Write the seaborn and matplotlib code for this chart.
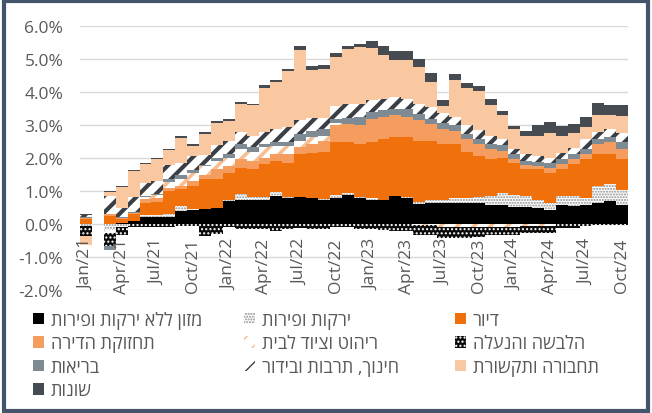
import matplotlib
matplotlib.use('Agg')
import matplotlib.pyplot as plt
from matplotlib.patches import Patch, Rectangle
import seaborn as sns
import numpy as np

sns.set_theme(style='white')
plt.rcParams['font.family'] = ['Open Sans', 'DejaVu Sans']

# months Jan/21 .. Oct/24
months = ['Jan', 'Feb', 'Mar', 'Apr', 'May', 'Jun', 'Jul', 'Aug', 'Sep', 'Oct', 'Nov', 'Dec']
dates = [f'{m}/{y}' for y in ['21', '22', '23', '24'] for m in months][:46]
tick_labels = dates[::3]

# contributions (percentage points)
food = [0, 0, 0, 0.03, 0.08, 0.22, 0.22, 0.22, 0.4, 0.42, 0.46, 0.48,
        0.69, 0.74, 0.72, 0.72, 0.84, 0.79, 0.82, 0.79, 0.72, 0.8, 0.87, 0.79,
        0.74, 0.72, 0.84, 0.79, 0.61, 0.63, 0.63, 0.63, 0.63, 0.63, 0.58, 0.58,
        0.53, 0.53, 0.48, 0.43, 0.58, 0.55, 0.58, 0.63, 0.69, 0.58]
veg = [-0.05, 0, -0.18, -0.08, 0.02, 0.05, 0.06, 0.08, 0.15, 0.02, 0, 0,
       0.05, 0.18, 0.09, 0.09, 0.13, 0.02, 0.01, 0, 0.05, 0.08, 0.07, 0.03,
       0.05, 0.02, 0, 0.04, 0.07, 0.11, 0.11, 0.16, 0.16, 0.2, 0.26, 0.36,
       0.36, 0.31, 0.26, 0.2, 0.26, 0.29, 0.2, 0.52, 0.51, 0.46]
housing = [0.15, 0, 0.25, 0.12, 0.2, 0.36, 0.4, 0.7, 0.5, 0.7, 0.89, 0.87,
           0.81, 0.79, 0.85, 1.0, 0.94, 1.05, 1.29, 1.36, 1.4, 1.6, 1.53, 1.6,
           1.68, 1.84, 1.79, 1.8, 1.85, 1.79, 1.68, 1.63, 1.38, 1.24, 1.12, 1.07,
           0.97, 0.84, 0.92, 0.92, 0.82, 0.97, 1.18, 0.97, 0.92, 0.92]
maintenance = [0.03, 0, 0.05, 0.03, 0.03, 0.12, 0.1, 0.1, 0.1, 0.16, 0.15, 0.31,
               0.21, 0.25, 0.25, 0.2, 0.21, 0.26, 0.2, 0.27, 0.35, 0.52, 0.57, 0.57,
               0.72, 0.66, 0.66, 0.61, 0.61, 0.51, 0.46, 0.41, 0.41, 0.36, 0.31, 0.21,
               0.1, 0.1, 0.1, 0.15, 0.15, 0.15, 0.15, 0.31, 0.36, 0.31]
furniture = [0, 0, -0.08, 0, 0, 0.08, 0.1, 0.17, 0.2, 0.25, 0.25, 0.24,
             0.25, 0.31, 0.26, 0.31, 0.25, 0.25, 0.21, 0.21, 0.15, 0.05, 0, 0,
             0, 0, 0, 0, -0.04, -0.04, -0.08, -0.08, -0.08, -0.08, -0.08, -0.08,
             -0.08, -0.06, -0.06, -0.06, 0, 0, 0, 0, 0, 0]
clothing = [-0.3, 0, -0.4, -0.25, -0.1, -0.08, -0.08, -0.08, -0.06, -0.06, -0.35, -0.3,
            -0.08, -0.15, -0.15, -0.15, -0.2, -0.15, -0.12, -0.15, -0.15, -0.08, -0.08, -0.15,
            -0.15, -0.18, -0.2, -0.2, -0.3, -0.3, -0.35, -0.35, -0.35, -0.3, -0.25, -0.25,
            -0.25, -0.22, -0.22, -0.22, -0.12, -0.12, -0.06, -0.03, -0.04, -0.04]
health = [0.02, 0, -0.12, 0.02, 0.02, 0.02, 0.02, 0.1, 0.15, 0.1, 0.05, 0.1,
          0.1, 0.15, 0.15, 0.1, 0.1, 0.12, 0.2, 0.2, 0.2, 0.12, 0.16, 0.25,
          0.21, 0.21, 0.21, 0.26, 0.2, 0.15, 0.19, 0.16, 0.15, 0.15, 0.15, 0.17,
          0.16, 0.13, 0.12, 0.14, 0.15, 0.15, 0.15, 0.15, 0.15, 0.2]
education = [0.06, 0, 0.55, 0.3, 0.48, 0.4, 0.4, 0.41, 0.36, 0.41, 0.3, 0.4,
             0.4, 0.36, 0.36, 0.36, 0.41, 0.44, 0.41, 0.38, 0.33, 0.4, 0.45, 0.41,
             0.35, 0.35, 0.35, 0.3, 0.31, 0.36, 0.3, 0.25, 0.26, 0.26, 0.26, 0.19,
             0.16, 0.21, 0.19, 0.17, 0.2, 0.2, 0.31, 0.21, 0.26, 0.3]
transport = [-0.28, 0, 0.13, 0.62, 0.77, 0.56, 0.66, 0.45, 0.76, 0.31, 0.63, 0.65,
             0.62, 0.85, 0.92, 1.35, 1.43, 1.71, 2.12, 1.45, 1.5, 1.48, 1.64, 1.71,
             1.59, 1.33, 1.13, 1.18, 1.12, 0.76, 0.2, 1.13, 1.12, 1.19, 0.92, 0.71,
             0.6, 0.54, 0.61, 0.75, 0.51, 0.46, 0.36, 0.51, 0.41, 0.51]
misc = [0.03, 0, 0.03, 0.03, 0.04, 0.04, 0.04, 0.04, 0.04, 0.04, 0.05, 0.07,
        0.06, 0.06, 0.04, 0.07, 0.05, 0.07, 0.13, 0.14, 0.13, 0.13, 0.1, 0.08,
        0.22, 0.26, 0.25, 0.25, 0.24, 0.26, 0.18, 0.18, 0.17, 0.16, 0.2, 0.12,
        0.1, 0.17, 0.32, 0.34, 0.31, 0.27, 0.31, 0.36, 0.3, 0.32]

# series: (label, values, facecolor, hatch, hatch colour, hatch width)
series = [
    ('מזון ללא ירקות ופירות', food, '#000000', None, None, 1.0),
    ('ירקות ופירות', veg, '#FFFFFF', '......', '#8C8C8C', 1.0),
    ('דיור', housing, '#F0700C', None, None, 1.0),
    ('תחזוקת הדירה', maintenance, '#F59D5E', None, None, 1.0),
    ('ריהוט וציוד לבית', furniture, '#FFFFFF', '//', '#F6BE93', 2.6),
    ('הלבשה והנעלה', clothing, '#0A0A0A', '....', '#FFFFFF', 1.0),
    ('בריאות', health, '#7E8B94', None, None, 1.0),
    ('חינוך, תרבות ובידור', education, '#FFFFFF', '//', '#3A3F46', 3.0),
    ('תחבורה ותקשורת', transport, '#F9C8A0', None, None, 1.0),
    ('שונות', misc, '#464B52', None, None, 1.0),
]


def rtl(s):
    # matplotlib has no bidi support: give Hebrew in visual order
    return s[::-1]


fig = plt.figure(figsize=(6.52, 4.14), dpi=100)
ax = fig.add_axes([80 / 652, 1 - 291 / 414, 547.5 / 652, 264 / 414])

x = np.arange(len(dates))
pos_bottom = np.zeros(len(dates))
neg_bottom = np.zeros(len(dates))
handles = []
for label, vals, fc, hatch, hc, hlw in series:
    v = np.array(vals, dtype=float)
    pos = np.clip(v, 0, None)
    neg = np.clip(v, None, 0)
    with plt.rc_context({'hatch.linewidth': hlw}):
        kw = dict(width=1.0, color=fc, linewidth=0, hatch=hatch, zorder=2)
        if hatch:
            kw['edgecolor'] = hc
        ax.bar(x, pos, bottom=pos_bottom, **kw)
        ax.bar(x, neg, bottom=neg_bottom, **kw)
        h = Patch(facecolor=fc, edgecolor=hc if hatch else fc, hatch=hatch, linewidth=0)
    handles.append((h, rtl(label)))
    pos_bottom += pos
    neg_bottom += neg

ax.set_xlim(-0.5, len(dates) - 0.5)
ax.set_ylim(-2, 6)
ax.set_yticks(np.arange(-2, 7, 1))
ax.set_yticklabels([f'{t:.1f}%' for t in np.arange(-2, 7, 1)], fontsize=12.5, color='#595959')
ax.tick_params(axis='y', length=0, pad=12)
ax.set_xticks([])
ax.yaxis.grid(True, color='#D9D9D9', linewidth=1, zorder=0)
ax.set_axisbelow(True)
for s in ax.spines.values():
    s.set_visible(False)

for i, lab in zip(x[::3], tick_labels):
    ax.text(i, -0.42, lab, rotation=90, ha='center', va='top', fontsize=12.5, color='#595959', zorder=3)

# legend: three columns, row-wise order
cols = [[0, 3, 6, 9], [1, 4, 7], [2, 5, 8]]
col_x = [33, 244, 455]
for cx, idxs in zip(col_x, cols):
    fig.legend([handles[k][0] for k in idxs], [handles[k][1] for k in idxs],
               loc='upper left', bbox_to_anchor=(cx / 652, 1 - 312 / 414),
               frameon=False, fontsize=13, labelcolor='#595959',
               handlelength=0.6, handleheight=0.6, handletextpad=0.4,
               labelspacing=0.3, borderaxespad=0, borderpad=0)

fig.patches.append(Rectangle((0.006, 0.006), 0.988, 0.988, transform=fig.transFigure,
                             fill=False, edgecolor='#44546A', linewidth=3))

fig.savefig('out.png', dpi=100)
